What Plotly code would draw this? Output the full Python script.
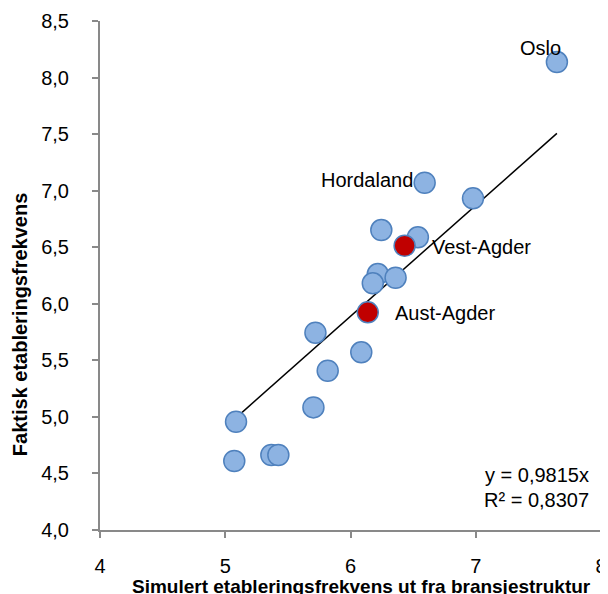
import plotly.graph_objects as go

# Data
sim_x = [7.648, 6.592, 6.978, 6.246, 6.538, 6.218, 6.360, 6.178, 5.720,
         6.086, 5.818, 5.704, 5.086, 5.072, 5.368, 5.424]
act_y = [8.137, 7.070, 6.932, 6.652, 6.588, 6.263, 6.230, 6.181, 5.744,
         5.571, 5.408, 5.084, 4.957, 4.610, 4.663, 4.663]
agder_names = ["Vest-Agder", "Aust-Agder"]
agder_x = [6.432, 6.138]
agder_y = [6.513, 5.924]
slope = 0.9815
r2 = 0.8307
x_ticks = [4, 5, 6, 7, 8]
y_ticks = [4.0, 4.5, 5.0, 5.5, 6.0, 6.5, 7.0, 7.5, 8.0, 8.5]

labels_blue = {"Oslo": (7.648, 8.137), "Hordaland": (6.592, 7.070)}

FONT = "Liberation Sans, Arial, sans-serif"
FS = 20
fig = go.Figure()

xmin, xmax = min(sim_x + agder_x), max(sim_x + agder_x)
fig.add_trace(go.Scatter(x=[xmin, xmax], y=[slope * xmin, slope * xmax], mode="lines",
                         line=dict(color="black", width=1.5), hoverinfo="skip"))
fig.add_trace(go.Scatter(x=sim_x, y=act_y, mode="markers",
                         marker=dict(size=21, color="#8DB3E2",
                                     line=dict(color="#4F81BD", width=1.5))))
fig.add_trace(go.Scatter(x=agder_x, y=agder_y, mode="markers",
                         marker=dict(size=21, color="#C00000",
                                     line=dict(color="#4F81BD", width=1.5))))

fig.add_annotation(x=labels_blue["Oslo"][0], y=labels_blue["Oslo"][1], text="Oslo",
                   showarrow=False, xanchor="center", yanchor="middle", xshift=-16, yshift=14)
fig.add_annotation(x=labels_blue["Hordaland"][0], y=labels_blue["Hordaland"][1], text="Hordaland",
                   showarrow=False, xanchor="right", yanchor="middle", xshift=-10, yshift=3)
for n, x, y in zip(agder_names, agder_x, agder_y):
    fig.add_annotation(x=x, y=y, text=n, showarrow=False, xanchor="left",
                       yanchor="middle", xshift=25, yshift=-1)


def dec(v):
    return f"{v:.4f}".replace(".", ",")


fig.add_annotation(xref="paper", yref="paper", x=0.981, y=0.108,
                   text=f"y = {dec(slope)}x", showarrow=False,
                   xanchor="right", yanchor="middle")
fig.add_annotation(xref="paper", yref="paper", x=0.981, y=0.059,
                   text=f"R² = {dec(r2)}", showarrow=False,
                   xanchor="right", yanchor="middle")

# axis titles as annotations (positioned as in the reference)
fig.add_annotation(xref="paper", yref="paper", x=0.521, y=-0.111,
                   text="<b>Simulert etableringsfrekvens ut fra bransjestruktur</b>",
                   showarrow=False, xanchor="center", yanchor="middle",
                   font=dict(size=19))
fig.add_annotation(xref="paper", yref="paper", x=-0.158, y=0.404,
                   text="<b>Faktisk etableringsfrekvens</b>", textangle=-90,
                   showarrow=False, xanchor="center", yanchor="middle",
                   font=dict(size=20))

axis_common = dict(showgrid=False, zeroline=False, showline=True, linecolor="#898989",
                   linewidth=2, ticks="outside", tickcolor="#898989", ticklen=6,
                   tickwidth=2, tickfont=dict(size=FS, color="black"),
                   automargin=False, ticklabeloverflow="allow")

# the page body adds an 8px offset; the figure extends a little past the window
fig.update_layout(
    width=608, height=594,
    margin=dict(l=92, r=15, t=13, b=72),
    plot_bgcolor="white", paper_bgcolor="white",
    showlegend=False,
    separators=", ",
    font=dict(family=FONT, size=FS, color="black"),
    xaxis=dict(range=[4, 8], tickvals=x_ticks, tickformat="d",
               ticklabelstandoff=11, **axis_common),
    yaxis=dict(range=[4, 8.5], tickvals=y_ticks, tickformat=".1f",
               ticklabelstandoff=19, **axis_common),
)

fig.write_html("out.html")
